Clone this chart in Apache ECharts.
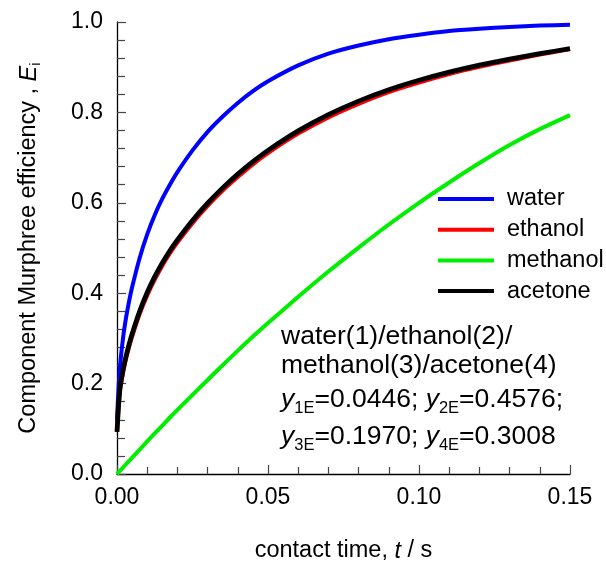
<!DOCTYPE html>
<html>
<head>
<meta charset="utf-8">
<script src="https://cdn.jsdelivr.net/npm/echarts@6/dist/echarts.min.js"></script>
<style>html,body{margin:0;padding:0;background:#fff}#c{width:606px;height:561px}</style>
</head>
<body>
<div id="c"></div>
<script>
var times   = [0, 0.0005, 0.001, 0.002, 0.003, 0.004, 0.005, 0.0075, 0.01, 0.0125, 0.015, 0.0175, 0.02, 0.025, 0.03, 0.035, 0.04, 0.045, 0.05, 0.06, 0.07, 0.08, 0.09, 0.10, 0.11, 0.12, 0.13, 0.14, 0.15];
var water   = [0.12, 0.189, 0.239, 0.301, 0.346, 0.382, 0.413, 0.478, 0.530, 0.573, 0.609, 0.640, 0.668, 0.716, 0.757, 0.791, 0.821, 0.847, 0.869, 0.904, 0.930, 0.948, 0.962, 0.972, 0.980, 0.985, 0.989, 0.992, 0.994];
var ethanol = [0.093, 0.148, 0.186, 0.225, 0.255, 0.281, 0.304, 0.354, 0.395, 0.430, 0.461, 0.488, 0.512, 0.555, 0.593, 0.627, 0.657, 0.685, 0.710, 0.753, 0.789, 0.819, 0.845, 0.866, 0.885, 0.901, 0.915, 0.928, 0.940];
var methanol= [0, 0.0036, 0.0072, 0.0144, 0.0216, 0.0288, 0.036, 0.054, 0.072, 0.09, 0.107, 0.125, 0.142, 0.175, 0.208, 0.241, 0.273, 0.304, 0.334, 0.392, 0.448, 0.501, 0.552, 0.600, 0.645, 0.688, 0.728, 0.763, 0.794];
var acetone = [0.093, 0.150, 0.190, 0.230, 0.261, 0.287, 0.310, 0.360, 0.4015, 0.4365, 0.467, 0.494, 0.518, 0.561, 0.599, 0.633, 0.6635, 0.691, 0.716, 0.759, 0.795, 0.825, 0.850, 0.871, 0.889, 0.9045, 0.918, 0.930, 0.941];
var seriesNames = ['water', 'ethanol', 'methanol', 'acetone'];
var seriesColors = ['#0000ff', '#ff0000', '#00ee00', '#000000'];
var seriesData = [water, ethanol, methanol, acetone];
var noteLines = [
  'water(1)/ethanol(2)/',
  'methanol(3)/acetone(4)',
  '{i|y}{s|1E}=0.0446; {i|y}{s|2E}=0.4576;',
  '{i|y}{s|3E}=0.1970; {i|y}{s|4E}=0.3008'
];

function pairs(arr){ return times.map(function(t,i){ return [t, arr[i]]; }); }

var chart = echarts.init(document.getElementById('c'), null, {renderer:'canvas'});
var font = 'Liberation Sans, Arial, sans-serif';
var noteTops = [322, 351, 382, 419];
var option = {
  backgroundColor: '#fff',
  animation: false,
  grid: {left: 117, right: 36, top: 22, bottom: 87, outerBoundsMode: 'none', containLabel: false},
  xAxis: {
    type: 'value', min: 0, max: 0.15, interval: 0.05,
    axisLine: {show: true, lineStyle: {color: '#000', width: 1.3}},
    axisTick: {show: true, inside: true, length: 9, lineStyle: {color: '#444', width: 1.2}},
    minorTick: {show: true, splitNumber: 5, length: 7, lineStyle: {color: '#444', width: 1.2}},
    splitLine: {show: false},
    axisLabel: {fontFamily: font, fontSize: 23, color: '#000', margin: 12,
      formatter: function(v){ return v.toFixed(2); }},
    name: 'contact time, {i|t} / s',
    nameLocation: 'middle', nameGap: 65,
    nameTextStyle: {fontFamily: font, fontSize: 23.5, color: '#000',
      rich: {i: {fontFamily: font, fontSize: 23.5, fontStyle: 'italic', color: '#000'}}}
  },
  yAxis: {
    type: 'value', min: 0, max: 1.0, interval: 0.2,
    axisLine: {show: true, lineStyle: {color: '#000', width: 1.3}},
    axisTick: {show: true, inside: true, length: 9, lineStyle: {color: '#444', width: 1.2}},
    minorTick: {show: true, splitNumber: 5, length: 8, lineStyle: {color: '#444', width: 1.2}},
    splitLine: {show: false},
    axisLabel: {fontFamily: font, fontSize: 23, color: '#000', margin: 14,
      formatter: function(v){ return v.toFixed(1); }},
    name: 'Component Murphree efficiency , {i|E}{s|i}',
    nameLocation: 'middle', nameGap: 75, nameRotate: 90,
    nameTextStyle: {fontFamily: font, fontSize: 23.5, color: '#000', lineHeight: 26,
      rich: {i: {fontFamily: font, fontSize: 23.5, fontStyle: 'italic', color: '#000', lineHeight: 26},
             s: {fontFamily: font, fontSize: 15, color: '#000', lineHeight: 15, padding: [14,0,0,0]}}}
  },
  legend: {
    orient: 'vertical', left: 433, top: 182,
    data: seriesNames,
    icon: 'rect', itemWidth: 56, itemHeight: 4, itemGap: 6.7,
    textStyle: {fontFamily: font, fontSize: 23.5, color: '#000', lineHeight: 24, padding: [0,0,0,8]},
    inactiveColor: '#000'
  },
  series: seriesNames.map(function(n, k){
    return {
      name: n, type: 'line', data: pairs(seriesData[k]),
      showSymbol: false, smooth: 0.2, color: seriesColors[k],
      lineStyle: {color: seriesColors[k], width: k === 3 ? 4.8 : 4},
      itemStyle: {color: seriesColors[k]}
    };
  }),
  graphic: noteLines.map(function(txt, k){
    return {
      type: 'text', left: 281, top: noteTops[k],
      style: {
        text: txt,
        font: '26.5px Liberation Sans, Arial, sans-serif',
        fill: '#000', lineHeight: 30,
        rich: {
          i: {fontFamily: font, fontSize: 26.5, fontStyle: 'italic', fill: '#000', lineHeight: 30},
          s: {fontFamily: font, fontSize: 16.5, fill: '#000', lineHeight: 17, padding: [18,0,0,0]}
        }
      }
    };
  })
};
chart.setOption(option);
</script>
</body>
</html>
